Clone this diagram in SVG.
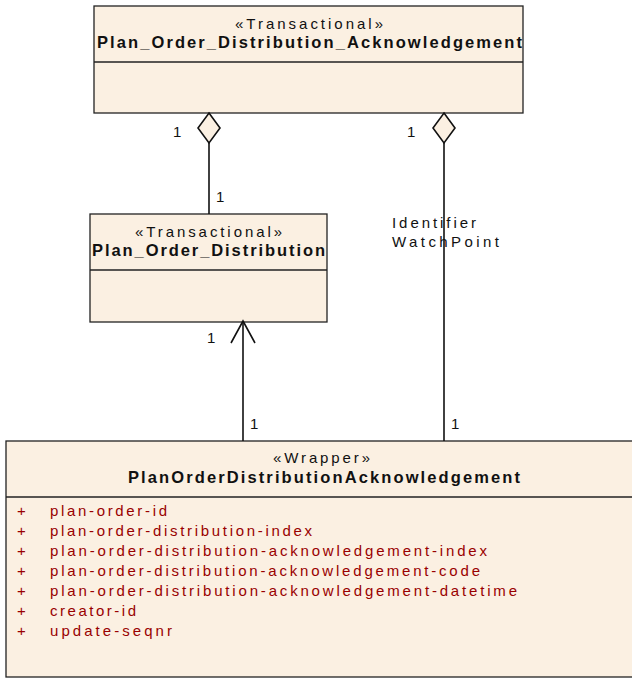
<svg xmlns="http://www.w3.org/2000/svg" width="632" height="679" viewBox="0 0 632 679">
<style>
.box{fill:#FBF0E2;stroke:#222;stroke-width:1.3}
.div{stroke:#222;stroke-width:1.3}
.t{font-family:"Liberation Sans",Arial,sans-serif;font-size:15px;fill:#111}
.b{font-family:"Liberation Sans",Arial,sans-serif;font-size:16.5px;font-weight:bold;fill:#111}
.a{font-family:"Liberation Sans",Arial,sans-serif;font-size:15px;fill:#990000}
.ln{fill:none;stroke:#111;stroke-width:1.6}
.dia{fill:#FBF0E2;stroke:#111;stroke-width:1.6}
</style>
<rect x="0" y="0" width="632" height="679" fill="#fff"/>
<g id="node-pod-ack">
<rect class="box" x="94" y="6" width="429" height="107"/>
<line class="div" x1="94" y1="62" x2="523" y2="62"/>
<text class="t" x="235" y="29" textLength="148" lengthAdjust="spacing">«Transactional»</text>
<text class="b" x="97" y="48" textLength="425" lengthAdjust="spacing">Plan_Order_Distribution_Acknowledgement</text>
</g>
<g id="node-pod">
<rect class="box" x="90" y="214" width="237" height="108"/>
<line class="div" x1="90" y1="270" x2="327" y2="270"/>
<text class="t" x="135" y="237" textLength="147" lengthAdjust="spacing">«Transactional»</text>
<text class="b" x="92" y="256" textLength="233" lengthAdjust="spacing">Plan_Order_Distribution</text>
</g>
<g id="node-wrapper">
<rect class="box" x="6" y="441" width="640" height="236"/>
<line class="div" x1="6" y1="497" x2="646" y2="497"/>
<text class="t" x="273" y="463" textLength="97" lengthAdjust="spacing">«Wrapper»</text>
<text class="b" x="128" y="483" textLength="392" lengthAdjust="spacing">PlanOrderDistributionAcknowledgement</text>
<g class="a">
<text x="17" y="516">+</text><text x="50" y="516" textLength="117" lengthAdjust="spacing">plan-order-id</text>
<text x="17" y="536">+</text><text x="50" y="536" textLength="262" lengthAdjust="spacing">plan-order-distribution-index</text>
<text x="17" y="556">+</text><text x="50" y="556" textLength="437" lengthAdjust="spacing">plan-order-distribution-acknowledgement-index</text>
<text x="17" y="576">+</text><text x="50" y="576" textLength="430" lengthAdjust="spacing">plan-order-distribution-acknowledgement-code</text>
<text x="17" y="596">+</text><text x="50" y="596" textLength="467" lengthAdjust="spacing">plan-order-distribution-acknowledgement-datetime</text>
<text x="17" y="616">+</text><text x="50" y="616" textLength="86" lengthAdjust="spacing">creator-id</text>
<text x="17" y="636">+</text><text x="50" y="636" textLength="122" lengthAdjust="spacing">update-seqnr</text>
</g>
</g>
<g id="connectors">
<line class="ln" x1="209" y1="143" x2="209" y2="214"/>
<polygon class="dia" points="209,113 220,128 209,143 198,128"/>
<text class="t" x="173" y="137">1</text>
<text class="t" x="216" y="202">1</text>
<line class="ln" x1="444" y1="143" x2="444" y2="441"/>
<polygon class="dia" points="444,113 455,128 444,143 433,128"/>
<text class="t" x="407" y="137">1</text>
<text class="t" x="392" y="228" textLength="84" lengthAdjust="spacing">Identifier</text>
<text class="t" x="392" y="247" textLength="107" lengthAdjust="spacing">WatchPoint</text>
<text class="t" x="451" y="429">1</text>
<line class="ln" x1="243" y1="322" x2="243" y2="441"/>
<polyline class="ln" points="231,343 243,321 255,343"/>
<text class="t" x="207" y="343">1</text>
<text class="t" x="250" y="429">1</text>
</g>
</svg>
